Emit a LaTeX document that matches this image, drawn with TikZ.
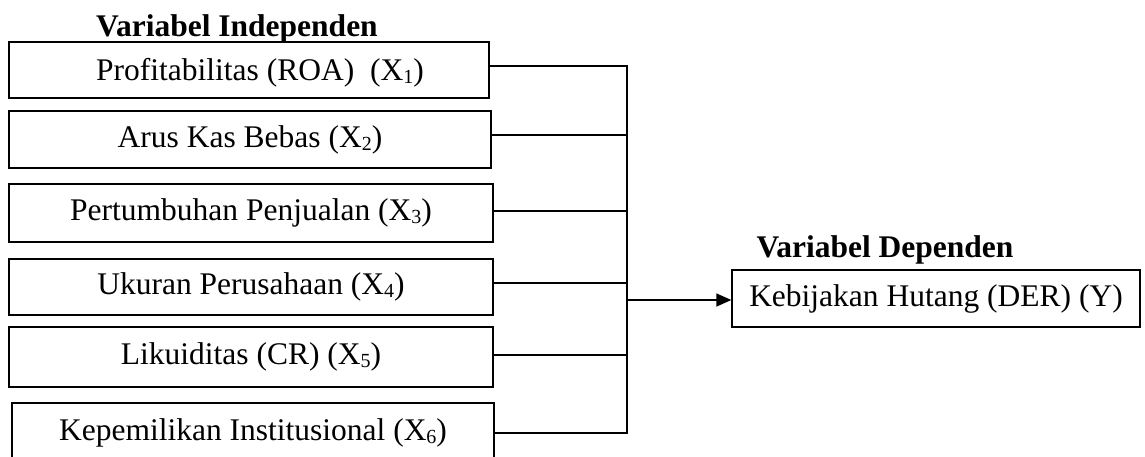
\documentclass[tikz,border=0pt]{standalone}
\usepackage{fontspec}
\setmainfont{Liberation Serif}
\usetikzlibrary{arrows.meta}
\newcommand\subx[1]{\raisebox{-3pt}{\fontsize{20}{20}\selectfont #1}}
\begin{document}
\begin{tikzpicture}[x=1pt,y=-1pt, line width=1.3pt,
  box/.style={draw, rectangle, inner sep=0pt, font=\fontsize{31.5}{36}\selectfont},
  ttl/.style={anchor=base, inner sep=0pt, font=\fontsize{31.5}{36}\selectfont\bfseries},
  link/.style={line width=1.3pt},
  arr/.style={-{Triangle[length=15pt,width=13pt]}}]
\useasboundingbox (0,0) rectangle (1145,456);
\node[ttl] (t1) at (237,36) {Variabel Independen};
\node[box, minimum width=480pt, minimum height=56pt] (b1) at (249,70) {\hspace{22pt}\raisebox{-3pt}[\height][\depth]{Profitabilitas (ROA)\ \ (X\subx{1})}};
\node[box, minimum width=482pt, minimum height=57pt] (b2) at (250,139.5) {Arus Kas Bebas (X\subx{2})};
\node[box, minimum width=484pt, minimum height=58pt] (b3) at (251,213) {Pertumbuhan Penjualan (X\subx{3})};
\node[box, minimum width=484pt, minimum height=56pt] (b4) at (251,287) {Ukuran Perusahaan (X\subx{4})};
\node[box, minimum width=484pt, minimum height=60pt] (b5) at (251,357) {Likuiditas (CR) (X\subx{5})};
\node[box, minimum width=482pt, minimum height=60pt] (b6) at (253,433) {Kepemilikan Institusional (X\subx{6})};
\node[ttl] (t2) at (885,257) {Variabel Dependen};
\node[box, minimum width=408pt, minimum height=57pt] (y) at (936,298.5) {Kebijakan Hutang (DER) (Y)};
\coordinate (bt) at (627,66);
\coordinate (bm) at (627,300);
\coordinate (s1) at ([yshift=4pt]b1.east);
\coordinate (s2) at ([yshift=4.5pt]b2.east);
\coordinate (s3) at ([yshift=2pt]b3.east);
\coordinate (s4) at ([yshift=4pt]b4.east);
\coordinate (s5) at ([yshift=2pt]b5.east);
\coordinate (s6) at (b6.east);
\draw[link] (s1) -- (s1 -| bt) -- (s6 -| bt) -- (s6);
\draw[link] (s2) -- (s2 -| bt);
\draw[link] (s3) -- (s3 -| bt);
\draw[link] (s4) -- (s4 -| bt);
\draw[link] (s5) -- (s5 -| bt);
\draw[link, arr] (bm) -- (bm -| y.west);
\end{tikzpicture}
\end{document}
